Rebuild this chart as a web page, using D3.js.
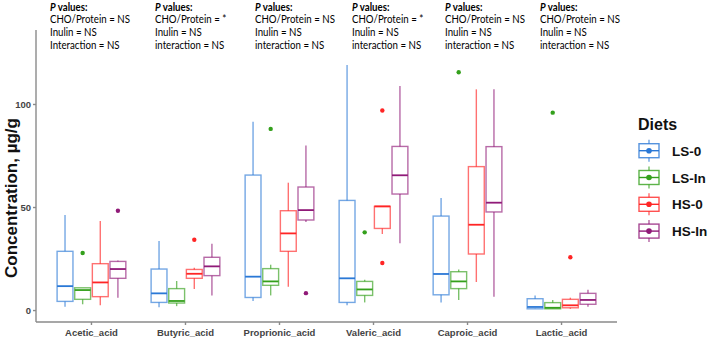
<!DOCTYPE html>
<html>
<head>
<meta charset="utf-8">
<script src="https://cdn.jsdelivr.net/npm/d3@7"></script>
<style>
  body { margin: 0; background: #fff; }
  svg { display: block; font-family: "Liberation Sans", Arial, sans-serif; }
</style>
</head>
<body>
<div id="chart"></div>
<script>
/* Acid concentration box plots by diet */

// Categories and groups
const acids = ["Acetic_acid", "Butyric_acid", "Proprionic_acid", "Valeric_acid", "Caproic_acid", "Lactic_acid"];
const diets = ["LS-0", "LS-In", "HS-0", "HS-In"];

// Box stats per acid: [lower whisker, Q1, median, Q3, upper whisker]
const ls0Stats = [
    [1.6, 4.2, 11.6, 28.5, 46.1],
    [1.3, 3.7, 8.1, 19.9, 33.5],
    [4.4, 6.1, 16.2, 65.5, 91.4],
    [2.3, 3.7, 15.4, 53.2, 118.9],
    [3.7, 7.4, 17.5, 45.6, 54.4],
    [0.5, 0.6, 1.5, 5.5, 7.1]
];
const lsInStats = [
    [2.8, 5.2, 9.7, 10.8, 10.8],
    [1.9, 3.4, 4.4, 10.4, 14.1],
    [7.1, 12.0, 13.9, 20.1, 22.0],
    [3.7, 7.1, 10.0, 13.9, 14.7],
    [4.9, 10.4, 13.9, 18.6, 19.7],
    [0.5, 0.6, 1.1, 3.6, 4.9]
];
const hs0Stats = [
    [2.3, 6.5, 13.4, 22.5, 43.2],
    [10.2, 15.4, 17.6, 19.7, 20.5],
    [11.3, 28.5, 37.2, 48.2, 61.8],
    [36.9, 39.6, 50.3, 50.3, 50.3],
    [13.6, 27.2, 41.4, 69.6, 107.1],
    [0.6, 1.1, 2.3, 5.2, 6.0]
];
const hsInStats = [
    [6.0, 15.4, 19.9, 23.6, 24.0],
    [7.0, 16.7, 21.2, 25.6, 32.2],
    [42.7, 43.7, 48.5, 59.7, 79.8],
    [32.4, 56.3, 65.4, 79.4, 108.7],
    [6.5, 47.6, 52.1, 79.3, 107.1],
    [1.6, 2.8, 4.9, 8.1, 9.9]
];

// Outliers per acid
const ls0Outliers = [[], [], [], [], [], []];
const lsInOutliers = [[27.7], [], [87.9], [37.7], [115.4], [95.8]];
const hs0Outliers = [[], [34.1], [], [96.8, 22.8], [], [25.6]];
const hsInOutliers = [[48.2], [], [8.2], [], [], []];

const yTicks = [0, 50, 100];

// Annotation text above each acid
const choProtein = ["NS", "*", "NS", "*", "NS", "NS"];
const inulin = ["NS", "NS", "NS", "NS", "NS", "NS"];
const interaction = ["NS", "NS", "NS", "NS", "NS", "NS"];
const interactionWord = ["Interaction", "interaction", "interaction", "interaction", "interaction", "interaction"];

const dietColors = ["#2a78d6", "#34a01c", "#ff2525", "#901a78"];

const width = 708;
const height = 340;
const plot = { left: 36, right: 617, top: 30, bottom: 322 };

const svg = d3.select("#chart").append("svg")
    .attr("width", width)
    .attr("height", height);

const x = d3.scaleBand()
    .domain(acids)
    .range([plot.left, plot.right])
    .paddingInner(0.25)
    .paddingOuter(0.215);

const xInner = d3.scaleBand()
    .domain(diets)
    .range([0, x.bandwidth()])
    .paddingInner(0.1)
    .paddingOuter(0.05);

const y = d3.scaleLinear()
    .domain([-5.8, 135.9])
    .range([plot.bottom, plot.top]);

const color = d3.scaleOrdinal().domain(diets).range(dietColors);

// Build rows for drawing
const statsByDiet = [ls0Stats, lsInStats, hs0Stats, hsInStats];
const outliersByDiet = [ls0Outliers, lsInOutliers, hs0Outliers, hsInOutliers];
const boxes = [];
const points = [];
acids.forEach((acid, i) => {
    diets.forEach((diet, j) => {
        const s = statsByDiet[j][i];
        boxes.push({ acid, diet, lo: s[0], q1: s[1], med: s[2], q3: s[3], hi: s[4] });
        outliersByDiet[j][i].forEach(v => points.push({ acid, diet, value: v }));
    });
});

// Axes
const axisColor = "#8a8a8a";
const tickTextColor = "#444";

const yAxis = svg.append("g")
    .attr("transform", `translate(${plot.left},0)`)
    .call(d3.axisLeft(y).tickValues(yTicks).tickSize(3).tickPadding(2));
yAxis.select(".domain").attr("d", `M0,${plot.top}V${plot.bottom}`);

const xAxis = svg.append("g")
    .attr("transform", `translate(0,${plot.bottom})`)
    .call(d3.axisBottom(x).tickSize(3).tickPadding(4));
xAxis.select(".domain").attr("d", `M${plot.left},0H${plot.right}`);

svg.selectAll(".domain, .tick line")
    .attr("stroke", axisColor)
    .attr("stroke-width", 1.4);
svg.selectAll(".tick text")
    .attr("fill", tickTextColor)
    .style("font-size", "9.5px")
    .style("font-weight", "bold");

// Y axis title
svg.append("text")
    .attr("transform", "translate(17,198) rotate(-90)")
    .attr("text-anchor", "middle")
    .style("font-size", "17px")
    .style("font-weight", "bold")
    .attr("fill", "#111")
    .text("Concentration, µg/g");

// Boxes
const boxW = xInner.bandwidth();
const groups = svg.append("g").selectAll("g.box")
    .data(boxes)
    .enter()
    .append("g")
    .attr("class", "box")
    .attr("transform", d => `translate(${x(d.acid) + xInner(d.diet)},0)`);

groups.append("line")
    .attr("x1", boxW / 2).attr("x2", boxW / 2)
    .attr("y1", d => y(d.hi)).attr("y2", d => y(d.q3))
    .attr("stroke", d => color(d.diet))
    .attr("stroke-opacity", 0.65)
    .attr("stroke-width", 1.4);

groups.append("line")
    .attr("x1", boxW / 2).attr("x2", boxW / 2)
    .attr("y1", d => y(d.q1)).attr("y2", d => y(d.lo))
    .attr("stroke", d => color(d.diet))
    .attr("stroke-opacity", 0.65)
    .attr("stroke-width", 1.4);

groups.append("rect")
    .attr("x", 0)
    .attr("width", boxW)
    .attr("y", d => y(d.q3))
    .attr("height", d => Math.max(0.5, y(d.q1) - y(d.q3)))
    .attr("fill", "none")
    .attr("stroke", d => color(d.diet))
    .attr("stroke-opacity", 0.65)
    .attr("stroke-width", 1.4);

groups.append("line")
    .attr("x1", 0).attr("x2", boxW)
    .attr("y1", d => y(d.med)).attr("y2", d => y(d.med))
    .attr("stroke", d => color(d.diet))
    .attr("stroke-width", 1.8);

// Outliers
svg.append("g").selectAll("circle")
    .data(points)
    .enter()
    .append("circle")
    .attr("cx", d => x(d.acid) + xInner(d.diet) + boxW / 2)
    .attr("cy", d => y(d.value))
    .attr("r", 2.2)
    .attr("fill", d => color(d.diet));

// P value annotations (Calibri-like narrow text: squeeze horizontally to fit)
const annoX = [50, 155, 255, 352, 445, 540];
const annoY = [10.8, 23.4, 36, 48.6];
const anno = svg.append("g")
    .style("font-family", "Lato, 'Noto Sans', sans-serif")
    .style("font-size", "11.5px");

// measure a reference line to get the squeeze factor
const probe = anno.append("text").text("CHO/Protein = NS");
const squeeze = 80 / probe.node().getComputedTextLength();
probe.remove();

acids.forEach((acid, i) => {
    const col = anno.append("g")
        .attr("transform", `translate(${annoX[i]},0) scale(${squeeze},1)`);
    const t = col.append("text").attr("y", annoY[0]).attr("fill", "#000");
    t.append("tspan").style("font-weight", "bold").style("font-style", "italic").text("P");
    t.append("tspan").style("font-weight", "bold").text(" values:");
    col.append("text").attr("y", annoY[1]).text(`CHO/Protein = ${choProtein[i]}`);
    col.append("text").attr("y", annoY[2]).text(`Inulin = ${inulin[i]}`);
    col.append("text").attr("y", annoY[3]).text(`${interactionWord[i]} = ${interaction[i]}`);
});

// Legend
const legend = svg.append("g").attr("transform", "translate(638,0)");
legend.append("text")
    .attr("x", 0).attr("y", 130)
    .style("font-size", "16px")
    .style("font-weight", "bold")
    .attr("fill", "#111")
    .text("Diets");

const keys = legend.selectAll("g.key")
    .data(diets)
    .enter()
    .append("g")
    .attr("class", "key")
    .attr("transform", (d, i) => `translate(0,${150.7 + i * 26.8})`);

keys.append("line")
    .attr("x1", 11).attr("x2", 11).attr("y1", -11).attr("y2", 11)
    .attr("stroke", d => color(d)).attr("stroke-opacity", 0.8).attr("stroke-width", 1.2);
keys.append("rect")
    .attr("x", 1).attr("y", -7).attr("width", 20).attr("height", 14)
    .attr("fill", "#fff")
    .attr("stroke", d => color(d)).attr("stroke-opacity", 0.8).attr("stroke-width", 1.4);
keys.append("line")
    .attr("x1", 1).attr("x2", 21).attr("y1", 0).attr("y2", 0)
    .attr("stroke", d => color(d)).attr("stroke-width", 1.4);
keys.append("circle")
    .attr("cx", 11).attr("cy", 0).attr("r", 2.8)
    .attr("fill", d => color(d));
keys.append("text")
    .attr("x", 34).attr("y", 5)
    .style("font-size", "13.5px")
    .style("font-weight", "bold")
    .attr("fill", "#111")
    .text(d => d);
</script>
</body>
</html>
